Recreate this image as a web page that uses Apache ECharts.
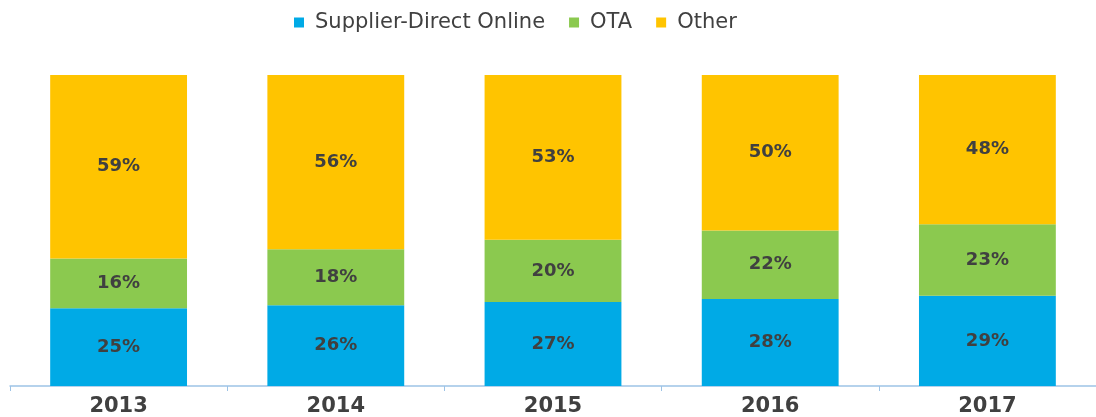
<!DOCTYPE html>
<html>
<head>
<meta charset="utf-8">
<script src="https://cdn.jsdelivr.net/npm/echarts@6/dist/echarts.min.js"></script>
<style>
    html, body { margin: 0; padding: 0; background: #fff; }
    #chart { width: 1096px; height: 417px; }
</style>
</head>
<body>
<div id="chart"></div>
<script>
// 年份
let years = ['2013', '2014', '2015', '2016', '2017'];
// 各渠道占比 (%)
let direct_data = [25, 26, 27, 28, 29];
let ota_data = [16, 18, 20, 22, 23];
let other_data = [59, 56, 53, 50, 48];

let myChart = echarts.init(document.getElementById('chart'));

let label = {
    show: true,
    position: 'inside',
    formatter: '{c}%',
    color: '#404040',
    fontSize: 18,
    fontWeight: 'bold',
    fontFamily: 'DejaVu Sans'
};

let option = {
    animation: false,
    legend: {
        top: 7,
        left: 289,
        itemWidth: 10,
        itemHeight: 10,
        itemGap: 24,
        icon: 'rect',
        textStyle: {
            color: '#404040',
            fontSize: 21,
            fontFamily: 'DejaVu Sans',
            padding: [0, 0, 0, 6]
        },
        data: ['Supplier-Direct Online', 'OTA', 'Other']
    },
    grid: {
        left: 10,
        right: 0,
        top: 75,
        bottom: 31
    },
    xAxis: {
        type: 'category',
        data: years,
        axisLine: { lineStyle: { color: '#9dc3e6', width: 1.5 } },
        axisTick: { show: true, length: 5, lineStyle: { color: '#9dc3e6' } },
        axisLabel: {
            color: '#404040',
            fontSize: 21,
            fontWeight: 'bold',
            fontFamily: 'DejaVu Sans',
            margin: 10
        }
    },
    yAxis: {
        type: 'value',
        min: 0,
        max: 100,
        show: false
    },
    series: [
        {
            name: 'Supplier-Direct Online',
            type: 'bar',
            stack: 'total',
            barWidth: '63%',
            itemStyle: { color: '#00aae6' },
            label: label,
            data: direct_data
        },
        {
            name: 'OTA',
            type: 'bar',
            stack: 'total',
            itemStyle: { color: '#8bc94f' },
            label: label,
            data: ota_data
        },
        {
            name: 'Other',
            type: 'bar',
            stack: 'total',
            itemStyle: { color: '#ffc400' },
            label: label,
            data: other_data
        }
    ]
};
myChart.setOption(option);
</script>
</body>
</html>
